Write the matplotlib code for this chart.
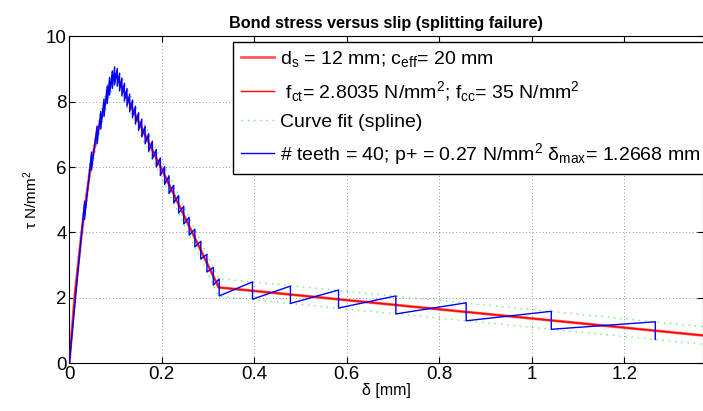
import numpy as np
import matplotlib
matplotlib.use("Agg")
import matplotlib.pyplot as plt

plt.rcParams["font.family"] = ["Liberation Sans", "DejaVu Sans"]
plt.rcParams["mathtext.fontset"] = "custom"
plt.rcParams["mathtext.rm"] = "Liberation Sans"
plt.rcParams["mathtext.it"] = "Liberation Sans"
plt.rcParams["mathtext.default"] = "regular"

# bond-slip model
red_s = [0, 0.0123, 0.0268, 0.033, 0.046, 0.060, 0.068, 0.075, 0.082, 0.090, 0.100, 0.323, 1.45]
red_tau = [0, 2.14, 4.0, 4.7, 6.0, 7.0, 7.45, 7.8, 8.2, 8.55, 8.85, 2.32, 0.74]

# spline curve fit, upper and lower branch
fit_s = [0, 0.0123, 0.0268, 0.033, 0.046, 0.060, 0.068, 0.075, 0.082, 0.090, 0.100, 0.323, 1.45]
fit_upper = [0.0, 2.41, 4.27, 4.97, 6.27, 7.27, 7.72, 8.07, 8.47, 8.82, 9.12, 2.59, 1.01]
fit_lower = [0.0, 1.87, 3.73, 4.43, 5.73, 6.73, 7.18, 7.53, 7.93, 8.28, 8.58, 2.05, 0.47]

# saw-tooth: slip at each drop, stress before and after the drop
teeth_s = [0.033, 0.048, 0.060, 0.068, 0.075, 0.082, 0.087, 0.093, 0.098,
           0.1037, 0.1086, 0.1137, 0.1191, 0.1247, 0.1305, 0.1365, 0.1429, 0.1497,
           0.1567, 0.1639, 0.1716, 0.1796, 0.1880, 0.1969, 0.2060, 0.2156, 0.2257,
           0.2363, 0.2474, 0.2591, 0.2714, 0.2842, 0.2975, 0.3114,
           0.324, 0.396, 0.478, 0.582, 0.706, 0.858, 1.042, 1.2668]
teeth_top = [4.94, 6.45, 7.25, 7.70, 8.08, 8.48, 8.74, 8.94, 9.06,
             9.01, 8.87, 8.72, 8.56, 8.40, 8.23, 8.05, 7.86, 7.66,
             7.46, 7.25, 7.02, 6.79, 6.54, 6.28, 6.01, 5.73, 5.44,
             5.13, 4.80, 4.46, 4.10, 3.73, 3.33, 2.93,
             2.58, 2.49, 2.36, 2.24, 2.06, 1.85, 1.59, 1.27]
teeth_bot = [4.40, 5.91, 6.71, 7.16, 7.54, 7.94, 8.20, 8.40, 8.52,
             8.47, 8.33, 8.18, 8.02, 7.86, 7.69, 7.51, 7.32, 7.12,
             6.92, 6.71, 6.48, 6.25, 6.00, 5.74, 5.47, 5.19, 4.90,
             4.59, 4.26, 3.92, 3.56, 3.19, 2.79, 2.39,
             2.06, 1.96, 1.83, 1.69, 1.51, 1.30, 1.04, 0.73]

saw_x = [0.0]
saw_y = [0.0]
for s, top, bot in zip(teeth_s, teeth_top, teeth_bot):
    saw_x += [s, s]
    saw_y += [top, bot]

fig = plt.figure(figsize=(7.03, 4.11), dpi=100)
ax = fig.add_axes([0.0986, 0.116, 0.9014, 0.796])

l1, = ax.plot(red_s, red_tau, color="#ff5a5a", lw=2.0, zorder=2,
              label="$d_s$ = 12 mm; $c_{eff}$= 20 mm")
l2, = ax.plot(red_s, red_tau, color="red", lw=1.0, zorder=3,
              label=" $f_{ct}$= 2.8035 N/mm$^2$; $f_{cc}$= 35 N/mm$^2$")
l3, = ax.plot(fit_s + [np.nan] + fit_s, fit_upper + [np.nan] + fit_lower,
              color="#66ee66", lw=1.0, ls=(0, (1, 3.5)), zorder=1,
              label="Curve fit (spline)")
l4, = ax.plot(saw_x, saw_y, color="blue", lw=1.0, zorder=4,
              label="# teeth = 40; p+ = 0.27 N/mm$^2$ $\\delta_{max}$= 1.2668 mm")

ax.set_xlim(0, 1.370)
ax.set_ylim(0, 10)
ax.set_xticks([0, 0.2, 0.4, 0.6, 0.8, 1.0, 1.2])
ax.set_xticklabels(["0", "0.2", "0.4", "0.6", "0.8", "1", "1.2"])
ax.set_yticks([0, 2, 4, 6, 8, 10])
ax.tick_params(direction="in", top=True, right=True, labelsize=13.5, length=4, width=0.8, pad=2)
ax.grid(True, color="0.45", ls=(0, (1, 3)), lw=0.6)
for sp in ax.spines.values():
    sp.set_linewidth(0.8)

ax.set_xlabel("δ [mm]", fontsize=11.5, labelpad=0)
ax.set_ylabel("τ N/mm$^2$", fontsize=11, labelpad=4)
ax.set_title("Bond stress versus slip (splitting failure)", fontsize=11.7,
             fontweight="bold", pad=6)

leg = fig.legend(handles=[l1, l2, l3, l4], loc="upper left",
                 bbox_to_anchor=(233.3 / 703, 1 - 41.7 / 411), borderaxespad=0,
                 fontsize=14, handlelength=1.7, handletextpad=0.3,
                 labelspacing=0.5, borderpad=0.38, fancybox=False,
                 framealpha=1, edgecolor="black")
leg.get_frame().set_linewidth(1.0)

fig.savefig("out.png", dpi=100)
